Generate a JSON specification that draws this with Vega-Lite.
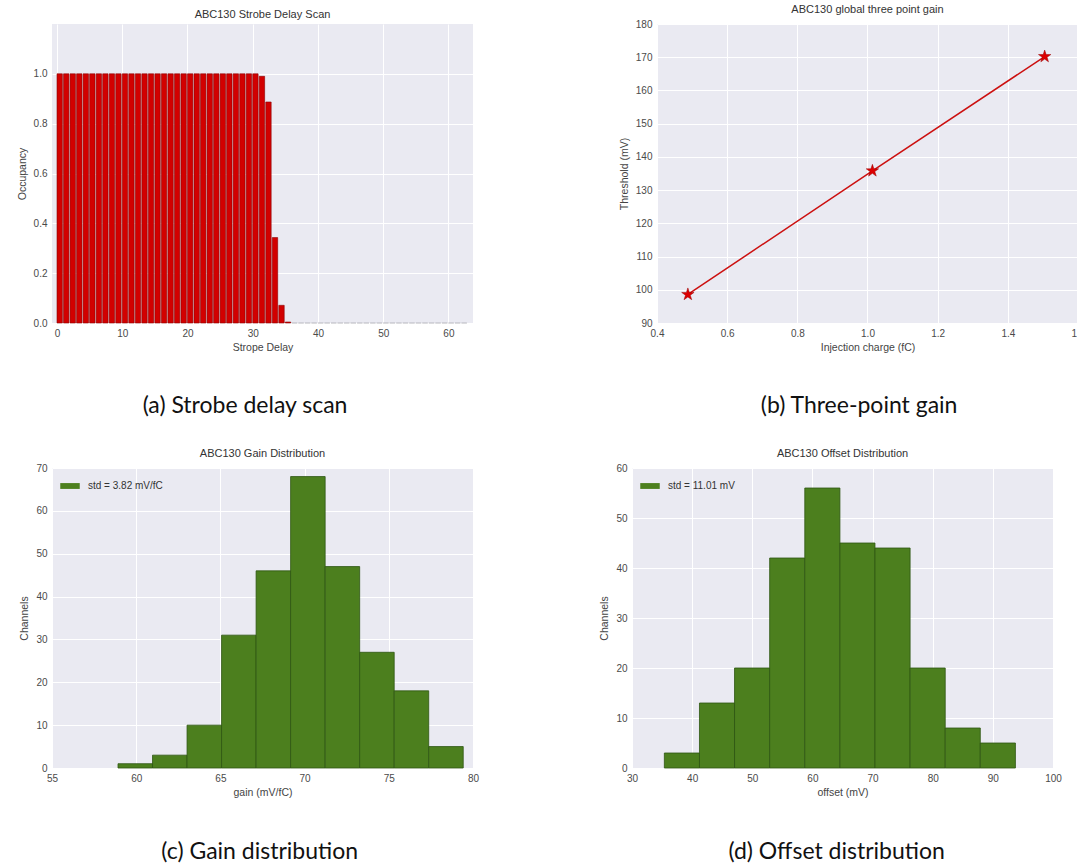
{
  "$schema": "https://vega.github.io/schema/vega-lite/v6.json",
  "background": "white",
  "padding": {"left": 0, "top": 4, "right": 0, "bottom": 0},
  "columns": 2,
  "align": "none",
  "spacing": {"row": 30, "column": 120},
  "resolve": {"scale": {"color": "independent"}, "legend": {"color": "independent"}},
  "config": {
    "view": {"fill": "#EAEAF2", "stroke": null},
    "axis": {
      "grid": true, "gridColor": "white", "gridWidth": 1, "domain": false, "ticks": false,
      "labelFont": "Liberation Sans", "labelFontSize": 10, "labelColor": "#4a4a4a", "labelPadding": 5,
      "labelFlush": false, "labelOverlap": false,
      "titleFont": "Liberation Sans", "titleFontSize": 10.5, "titleFontWeight": "normal", "titleColor": "#444444"
    },
    "axisX": {"titlePadding": 4},
    "axisY": {"titlePadding": 6},
    "title": {"font": "Liberation Sans", "fontSize": 11, "fontWeight": "normal", "color": "#333333", "offset": 4, "frame": "group"},
    "legend": {
      "orient": "top-left", "title": null, "offset": 8, "padding": 0,
      "symbolType": "M-1,-0.3H1V0.3H-1Z", "symbolSize": 380, "symbolStrokeWidth": 0,
      "labelFont": "Liberation Sans", "labelFontSize": 10, "labelColor": "#333333", "labelOffset": 8
    }
  },
  "concat": [
    {
      "title": {"text": "(a) Strobe delay scan", "orient": "bottom", "anchor": "middle", "offset": 42, "font": "Lato", "fontSize": 23, "fontWeight": "normal", "color": "#111111", "frame": "bounds"},
      "vconcat": [
        {
          "width": 421, "height": 299,
          "title": {"text": "ABC130 Strobe Delay Scan"},
          "data": {"values": [
            {"delay": 0, "occupancy": 1.0}, {"delay": 1, "occupancy": 1.0}, {"delay": 2, "occupancy": 1.0}, {"delay": 3, "occupancy": 1.0},
            {"delay": 4, "occupancy": 1.0}, {"delay": 5, "occupancy": 1.0}, {"delay": 6, "occupancy": 1.0}, {"delay": 7, "occupancy": 1.0},
            {"delay": 8, "occupancy": 1.0}, {"delay": 9, "occupancy": 1.0}, {"delay": 10, "occupancy": 1.0}, {"delay": 11, "occupancy": 1.0},
            {"delay": 12, "occupancy": 1.0}, {"delay": 13, "occupancy": 1.0}, {"delay": 14, "occupancy": 1.0}, {"delay": 15, "occupancy": 1.0},
            {"delay": 16, "occupancy": 1.0}, {"delay": 17, "occupancy": 1.0}, {"delay": 18, "occupancy": 1.0}, {"delay": 19, "occupancy": 1.0},
            {"delay": 20, "occupancy": 1.0}, {"delay": 21, "occupancy": 1.0}, {"delay": 22, "occupancy": 1.0}, {"delay": 23, "occupancy": 1.0},
            {"delay": 24, "occupancy": 1.0}, {"delay": 25, "occupancy": 1.0}, {"delay": 26, "occupancy": 1.0}, {"delay": 27, "occupancy": 1.0},
            {"delay": 28, "occupancy": 1.0}, {"delay": 29, "occupancy": 1.0}, {"delay": 30, "occupancy": 1.0}, {"delay": 31, "occupancy": 0.99},
            {"delay": 32, "occupancy": 0.887}, {"delay": 33, "occupancy": 0.343}, {"delay": 34, "occupancy": 0.071}, {"delay": 35, "occupancy": 0.004},
            {"delay": 36, "occupancy": 0}, {"delay": 37, "occupancy": 0}, {"delay": 38, "occupancy": 0}, {"delay": 39, "occupancy": 0},
            {"delay": 40, "occupancy": 0}, {"delay": 41, "occupancy": 0}, {"delay": 42, "occupancy": 0}, {"delay": 43, "occupancy": 0},
            {"delay": 44, "occupancy": 0}, {"delay": 45, "occupancy": 0}, {"delay": 46, "occupancy": 0}, {"delay": 47, "occupancy": 0},
            {"delay": 48, "occupancy": 0}, {"delay": 49, "occupancy": 0}, {"delay": 50, "occupancy": 0}, {"delay": 51, "occupancy": 0},
            {"delay": 52, "occupancy": 0}, {"delay": 53, "occupancy": 0}, {"delay": 54, "occupancy": 0}, {"delay": 55, "occupancy": 0},
            {"delay": 56, "occupancy": 0}, {"delay": 57, "occupancy": 0}, {"delay": 58, "occupancy": 0}, {"delay": 59, "occupancy": 0},
            {"delay": 60, "occupancy": 0}, {"delay": 61, "occupancy": 0}, {"delay": 62, "occupancy": 0}
          ]},
          "mark": {"type": "bar", "orient": "vertical", "width": 5.4, "xOffset": 2.7, "fill": "#d20000", "strokeWidth": 0.6},
          "encoding": {
            "x": {"field": "delay", "type": "quantitative", "scale": {"domain": [0, 63], "nice": false, "zero": false},
                  "axis": {"title": "Strope Delay", "values": [0, 10, 20, 30, 40, 50, 60]}},
            "y": {"field": "occupancy", "type": "quantitative", "scale": {"domain": [0, 1.2], "nice": false},
                  "axis": {"title": "Occupancy", "values": [0, 0.2, 0.4, 0.6, 0.8, 1.0], "format": ".1f"}},
            "stroke": {"condition": {"test": "datum.occupancy == 0", "value": "#b8b8c0"}, "value": "#8c0000"}
          }
        }
      ]
    },
    {
      "title": {"text": "(b) Three-point gain", "orient": "bottom", "anchor": "middle", "offset": 42, "font": "Lato", "fontSize": 23, "fontWeight": "normal", "color": "#111111", "frame": "bounds", "dx": 17},
      "vconcat": [
        {
          "width": 421, "height": 299,
          "title": {"text": "ABC130 global three point gain"},
          "data": {"values": [
            {"charge": 0.488, "threshold": 98.6},
            {"charge": 1.014, "threshold": 135.8},
            {"charge": 1.505, "threshold": 170.2}
          ]},
          "encoding": {
            "x": {"field": "charge", "type": "quantitative", "scale": {"domain": [0.4, 1.6], "nice": false, "zero": false},
                  "axis": {"title": "Injection charge (fC)", "values": [0.4, 0.6, 0.8, 1.0, 1.2, 1.4, 1.6], "format": ".1f"}},
            "y": {"field": "threshold", "type": "quantitative", "scale": {"domain": [90, 180], "nice": false, "zero": false},
                  "axis": {"title": ["", "Threshold (mV)"], "titleLineHeight": 20, "values": [90, 100, 110, 120, 130, 140, 150, 160, 170, 180]}}
          },
          "layer": [
            {"mark": {"type": "line", "color": "#cc1010", "strokeWidth": 1.5}, "encoding": {}},
            {"mark": {"type": "point", "shape": "M0,-1L0.2245,-0.309L0.951,-0.309L0.363,0.118L0.588,0.809L0,0.382L-0.588,0.809L-0.363,0.118L-0.951,-0.309L-0.2245,-0.309Z", "size": 170, "filled": true, "fill": "#dd0000", "stroke": "#990000", "strokeWidth": 0.5, "opacity": 1}}
          ]
        }
      ]
    },
    {
      "title": {"text": "(c) Gain distribution", "orient": "bottom", "anchor": "middle", "offset": 43, "font": "Lato", "fontSize": 23, "fontWeight": "normal", "color": "#111111", "frame": "bounds", "dx": 20},
      "resolve": {"scale": {"color": "independent"}, "legend": {"color": "independent"}},
      "vconcat": [
        {
          "width": 421, "height": 300,
          "title": {"text": "ABC130 Gain Distribution"},
          "data": {"values": [
            {"lo": 58.92, "hi": 60.97, "count": 1, "series": "std = 3.82 mV/fC"},
            {"lo": 60.97, "hi": 63.02, "count": 3, "series": "std = 3.82 mV/fC"},
            {"lo": 63.02, "hi": 65.07, "count": 10, "series": "std = 3.82 mV/fC"},
            {"lo": 65.07, "hi": 67.12, "count": 31, "series": "std = 3.82 mV/fC"},
            {"lo": 67.12, "hi": 69.17, "count": 46, "series": "std = 3.82 mV/fC"},
            {"lo": 69.17, "hi": 71.22, "count": 68, "series": "std = 3.82 mV/fC"},
            {"lo": 71.22, "hi": 73.27, "count": 47, "series": "std = 3.82 mV/fC"},
            {"lo": 73.27, "hi": 75.32, "count": 27, "series": "std = 3.82 mV/fC"},
            {"lo": 75.32, "hi": 77.37, "count": 18, "series": "std = 3.82 mV/fC"},
            {"lo": 77.37, "hi": 79.42, "count": 5, "series": "std = 3.82 mV/fC"}
          ]},
          "mark": {"type": "bar", "stroke": "#2d5512", "strokeWidth": 0.8, "opacity": 1},
          "encoding": {
            "x": {"field": "lo", "type": "quantitative", "scale": {"domain": [55, 80], "nice": false, "zero": false},
                  "axis": {"title": "gain (mV/fC)", "values": [55, 60, 65, 70, 75, 80]}},
            "x2": {"field": "hi"},
            "y": {"field": "count", "type": "quantitative", "scale": {"domain": [0, 70], "nice": false},
                  "axis": {"title": ["", "Channels"], "titleLineHeight": 19, "values": [0, 10, 20, 30, 40, 50, 60, 70]}},
            "y2": {"datum": 0},
            "color": {"field": "series", "type": "nominal", "scale": {"range": ["#4c7f1e"]}}
          }
        }
      ]
    },
    {
      "title": {"text": "(d) Offset distribution", "orient": "bottom", "anchor": "middle", "offset": 43, "font": "Lato", "fontSize": 23, "fontWeight": "normal", "color": "#111111", "frame": "bounds", "dx": 6},
      "resolve": {"scale": {"color": "independent"}, "legend": {"color": "independent"}},
      "vconcat": [
        {
          "width": 421, "height": 300,
          "title": {"text": "ABC130 Offset Distribution"},
          "data": {"values": [
            {"lo": 35.38, "hi": 41.22, "count": 3, "series": "std = 11.01 mV"},
            {"lo": 41.22, "hi": 47.05, "count": 13, "series": "std = 11.01 mV"},
            {"lo": 47.05, "hi": 52.89, "count": 20, "series": "std = 11.01 mV"},
            {"lo": 52.89, "hi": 58.73, "count": 42, "series": "std = 11.01 mV"},
            {"lo": 58.73, "hi": 64.57, "count": 56, "series": "std = 11.01 mV"},
            {"lo": 64.57, "hi": 70.40, "count": 45, "series": "std = 11.01 mV"},
            {"lo": 70.40, "hi": 76.24, "count": 44, "series": "std = 11.01 mV"},
            {"lo": 76.24, "hi": 82.08, "count": 20, "series": "std = 11.01 mV"},
            {"lo": 82.08, "hi": 87.91, "count": 8, "series": "std = 11.01 mV"},
            {"lo": 87.91, "hi": 93.75, "count": 5, "series": "std = 11.01 mV"}
          ]},
          "mark": {"type": "bar", "stroke": "#2d5512", "strokeWidth": 0.8, "opacity": 1},
          "encoding": {
            "x": {"field": "lo", "type": "quantitative", "scale": {"domain": [30, 100], "nice": false, "zero": false},
                  "axis": {"title": "offset (mV)", "values": [30, 40, 50, 60, 70, 80, 90, 100]}},
            "x2": {"field": "hi"},
            "y": {"field": "count", "type": "quantitative", "scale": {"domain": [0, 60], "nice": false},
                  "axis": {"title": "Channels", "values": [0, 10, 20, 30, 40, 50, 60]}},
            "y2": {"datum": 0},
            "color": {"field": "series", "type": "nominal", "scale": {"range": ["#4c7f1e"]}}
          }
        }
      ]
    }
  ]
}
